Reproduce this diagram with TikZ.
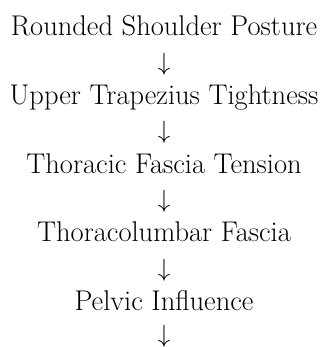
\documentclass[tikz,border=0pt]{standalone}
\usepackage{fontspec}
\setmainfont{Latin Modern Roman}
\begin{document}
\begin{tikzpicture}[x=1pt,y=-1pt,
  steptext/.style={anchor=base,inner sep=0pt,font=\fontsize{28.5}{32}\selectfont},
  arrowtext/.style={anchor=center,inner sep=0pt,font=\fontsize{34}{36}\selectfont}]
\useasboundingbox (0,0) rectangle (328,347);
\node[steptext] (t1) at (164,36) {Rounded Shoulder Posture};
\node[arrowtext] (a1) at (164,64) {$\downarrow$};
\node[steptext] (t2) at (164,104.6) {Upper Trapezius Tightness};
\node[arrowtext] (a2) at (164,132.6) {$\downarrow$};
\node[steptext] (t3) at (164,173.2) {Thoracic Fascia Tension};
\node[arrowtext] (a3) at (164,201.2) {$\downarrow$};
\node[steptext] (t4) at (164,241.8) {Thoracolumbar Fascia};
\node[arrowtext] (a4) at (164,269.8) {$\downarrow$};
\node[steptext] (t5) at (164,310.4) {Pelvic Influence};
\node[arrowtext] (a5) at (164,336.4) {$\downarrow$};
\end{tikzpicture}
\end{document}
